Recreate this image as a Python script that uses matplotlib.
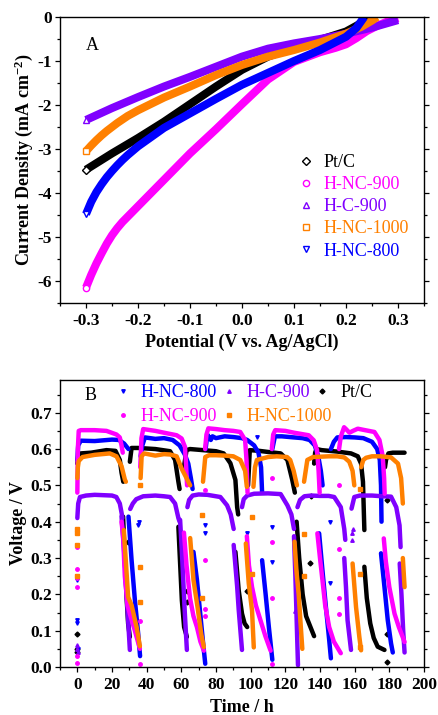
import numpy as np
import matplotlib.pyplot as plt
from matplotlib.lines import Line2D

plt.rcParams['font.family'] = 'Liberation Serif'
plt.rcParams['axes.unicode_minus'] = False
plt.rcParams['mathtext.fontset'] = 'custom'
plt.rcParams['mathtext.rm'] = 'Liberation Serif:bold'
plt.rcParams['mathtext.bf'] = 'Liberation Serif:bold'
plt.rcParams['mathtext.it'] = 'Liberation Serif:bold'
nan = np.nan

# ---------------- panel A : LSV curves ----------------
names = ['Pt/C', 'H-NC-900', 'H-C-900', 'H-NC-1000', 'H-NC-800']
colors = ['black', '#FF00FF', '#8000FF', '#FF8000', '#0000FF']
marks = ['D', 'o', '^', 's', 'v']

ptc_x = [-0.3, -0.25, -0.2, -0.15, -0.1, -0.05, 0, 0.05, 0.1, 0.15, 0.2, 0.22, 0.24, 0.25]
ptc_y = [-3.47, -3.1, -2.75, -2.38, -1.98, -1.58, -1.2, -0.9, -0.69, -0.52, -0.33, -0.2, -0.06, 0.0]
nc900_x = [-0.3, -0.29, -0.28, -0.27, -0.26, -0.25, -0.24, -0.23, -0.22, -0.21, -0.2, -0.15, -0.1,
           -0.05, 0, 0.05, 0.1, 0.15, 0.18, 0.2, 0.22, 0.24, 0.26, 0.28, 0.3]
nc900_y = [-6.15, -5.86, -5.6, -5.37, -5.15, -4.96, -4.8, -4.66, -4.54, -4.42, -4.3, -3.7, -3.1,
           -2.55, -1.98, -1.42, -1.02, -0.8, -0.7, -0.62, -0.48, -0.32, -0.2, -0.1, -0.02]
c900_x = [-0.3, -0.25, -0.2, -0.15, -0.1, -0.05, 0, 0.05, 0.1, 0.15, 0.2, 0.25, 0.3]
c900_y = [-2.34, -2.07, -1.82, -1.58, -1.36, -1.13, -0.9, -0.72, -0.6, -0.5, -0.38, -0.24, -0.07]
nc1000_x = [-0.3, -0.29, -0.28, -0.27, -0.26, -0.25, -0.24, -0.23, -0.22, -0.2, -0.15, -0.1,
            -0.05, 0, 0.05, 0.1, 0.15, 0.2, 0.23, 0.25, 0.26]
nc1000_y = [-3.05, -2.92, -2.8, -2.69, -2.59, -2.5, -2.41, -2.33, -2.25, -2.12, -1.83, -1.58,
            -1.32, -1.09, -0.9, -0.75, -0.58, -0.38, -0.22, -0.08, 0.0]
nc800_x = [-0.3, -0.29, -0.28, -0.27, -0.26, -0.25, -0.24, -0.23, -0.22, -0.2, -0.15, -0.1,
           -0.05, 0, 0.05, 0.1, 0.15, 0.2, 0.22, 0.235]
nc800_y = [-4.48, -4.2, -3.98, -3.8, -3.64, -3.5, -3.37, -3.25, -3.14, -2.94, -2.52, -2.19,
           -1.86, -1.54, -1.27, -1.0, -0.75, -0.45, -0.25, 0.0]

lsv = [(ptc_x, ptc_y), (nc900_x, nc900_y), (c900_x, c900_y), (nc1000_x, nc1000_y), (nc800_x, nc800_y)]

# ---------------- panel B : discharge cycles ----------------
b800_t = [0, 0.5, 2, 10, 20, 24, 27, 29.5, nan,
          29.5, 31.3, 33.2, 35.1, 36.2, nan,
          36.5, 37.5, 39, 45, 50, 55, 59, 62, 64, 65.5, 66.5, nan,
          67, 69, 70.9, 72.8, 73.8, nan,
          74, 75, 77, 78, 80, 85, 90, 95, 98, 102, 104.5, 106, 106.6, nan,
          106.6, 108.6, 110.5, 112.5, nan,
          112.5, 114, 118, 125, 130, 134, 137, 139, 140.5, 141.5, nan,
          139.5, 141.4, 143.4, 145.3, 146.3, nan,
          146.3, 148, 150, 155, 160, 165, 170, 173, 174.5, 175.2, 175.5, nan,
          175.2, 177.2, 179.1, 181, 182]
b800_v = [0.57, 0.61, 0.623, 0.622, 0.626, 0.625, 0.615, 0.6, nan,
          0.414, 0.294, 0.184, 0.092, 0.03, nan,
          0.58, 0.61, 0.632, 0.628, 0.63, 0.625, 0.61, 0.585, 0.56, 0.52, 0.49, nan,
          0.317, 0.24, 0.147, 0.055, 0.009, nan,
          0.6, 0.64, 0.625, 0.635, 0.63, 0.635, 0.633, 0.63, 0.625, 0.61, 0.59, 0.55, 0.48, nan,
          0.294, 0.202, 0.11, 0.02, nan,
          0.6, 0.635, 0.635, 0.632, 0.63, 0.625, 0.61, 0.58, 0.54, 0.5, nan,
          0.368, 0.267, 0.166, 0.075, 0.024, nan,
          0.6, 0.62, 0.632, 0.633, 0.632, 0.63, 0.62, 0.6, 0.57, 0.5, 0.4, nan,
          0.313, 0.22, 0.129, 0.065, 0.04]
b800_xt = [0, 0, 0, 0, 0.3, 35, 35.5, 73.7, 73.7, 98, 103.5, 112.2, 112.2, 146, 146]
b800_xv = [0.13, 0.12, 0.25, 0.24, 0.05, 0.39, 0.4, 0.39, 0.37, 0.37, 0.632, 0.385, 0.29, 0.4, 0.23]

c900_t = [0, 0.5, 1.5, 5, 10, 15, 20, 22.5, 24.5, 25.5, 26, nan,
          25.5, 27.4, 28.4, 29.3, 30.3, nan,
          30.5, 32, 34, 38, 45, 50, 53.5, 56.4, 58.3, 59, nan,
          59.3, 60.5, 62, 63.2, nan,
          63.5, 64.5, 66.5, 70, 75, 80, 82.5, 86.4, 88.5, 90.2, nan,
          90.2, 92.2, 93.1, 95, nan,
          95, 96, 98, 102, 110, 117.3, 121.2, 123.5, 125, nan,
          125, 125.8, 126.6, 127.3, nan,
          127, 128.5, 131, 135, 140, 145, 148.2, 152, 154, 154.6, nan,
          154, 155, 155.9, 157.9, nan,
          158.2, 159.8, 163, 170, 176, 181, 184, 185.9, 186.5, nan,
          186, 187, 188, 188.8]
c900_v = [0.41, 0.45, 0.468, 0.472, 0.474, 0.473, 0.472, 0.468, 0.45, 0.425, 0.41, nan,
          0.414, 0.294, 0.202, 0.13, 0.047, nan,
          0.435, 0.45, 0.462, 0.47, 0.472, 0.47, 0.468, 0.45, 0.41, 0.4, nan,
          0.405, 0.3, 0.15, 0.047, nan,
          0.44, 0.46, 0.472, 0.475, 0.474, 0.47, 0.468, 0.445, 0.42, 0.38, nan,
          0.336, 0.222, 0.158, 0.047, nan,
          0.44, 0.462, 0.472, 0.477, 0.478, 0.476, 0.445, 0.42, 0.38, nan,
          0.36, 0.25, 0.12, 0.005, nan,
          0.44, 0.46, 0.47, 0.472, 0.471, 0.471, 0.468, 0.44, 0.38, 0.35, nan,
          0.3, 0.22, 0.129, 0.047, nan,
          0.436, 0.468, 0.472, 0.472, 0.47, 0.469, 0.44, 0.39, 0.33, nan,
          0.285, 0.2, 0.1, 0.04]
c900_xt = [0, 0, 0.3, 125.5, 158.5, 158.7, 158.9]
c900_xv = [0.05, 0.06, 0.04, 0.155, 0.37, 0.35, 0.38]

pt_t = [0, 0.5, 2, 8, 16.8, 22, 24.5, 25.5, 26.5, nan,
        26.4, 27.4, 28.4, 29.3, 30.3, nan,
        30.3, 31.3, 35, 45, 53.5, 56.4, 58.3, 59, nan,
        58.3, 59.3, 60.3, 61.6, 63.2, nan,
        61.5, 63, 65, 70, 80, 84.4, 88.3, 91.2, 92.2, 92.8, nan,
        91.2, 93.1, 95, 96.5, 98, nan,
        98.5, 99.5, 105, 110, 117.3, 121.2, 124, 125.5, nan,
        126.5, 128, 130, 132, 134.5, 136.6, nan,
        136.6, 137.2, 138, 141, 150, 157.9, 161.8, 163.7, 164.8, 165.6, nan,
        165.6, 167, 169, 171, 173.3, 177.2, nan,
        177.5, 178.1, 179.5, 182, 185, 188.8]
pt_v = [0.56, 0.58, 0.588, 0.59, 0.597, 0.595, 0.57, 0.535, 0.51, nan,
        0.414, 0.294, 0.193, 0.12, 0.083, nan,
        0.565, 0.603, 0.603, 0.6, 0.594, 0.57, 0.51, 0.49, nan,
        0.386, 0.285, 0.184, 0.11, 0.083, nan,
        0.55, 0.597, 0.6, 0.598, 0.594, 0.588, 0.561, 0.515, 0.44, 0.42, nan,
        0.317, 0.211, 0.147, 0.12, 0.11, nan,
        0.5, 0.597, 0.595, 0.592, 0.588, 0.57, 0.515, 0.48, nan,
        0.4, 0.3, 0.2, 0.14, 0.11, 0.085, nan,
        0.56, 0.59, 0.6, 0.597, 0.593, 0.588, 0.58, 0.56, 0.51, 0.377, nan,
        0.276, 0.19, 0.12, 0.08, 0.056, 0.047, nan,
        0.55, 0.57, 0.588, 0.59, 0.59, 0.59]
pt_xt = [0, 0, 0, 29.3, 63, 63, 97.8, 134.4, 135, 178.8, 178.8, 178.8]
pt_xv = [0.04, 0.05, 0.09, 0.344, 0.21, 0.18, 0.21, 0.285, 0.47, 0.46, 0.092, 0.014]

b900_t = [0, 0.3, 0.8, 2, 10, 16.8, 22.6, 24.5, 25.5, 26.2, nan,
          25.5, 26.4, 27.4, 29, 30.3, 33.2, 36.1, nan,
          36.3, 37, 38, 45, 50, 57.3, 60.2, 62.1, 62.8, 63.3, nan,
          61.5, 63, 65, 67, 69, 71, 73, nan,
          73.7, 74.5, 75.6, 80, 85, 90, 94, 96.8, 97.6, 98.2, nan,
          97.8, 99, 100.8, 103, 105.7, 108.5, 111.5, nan,
          112.2, 113, 114.2, 120, 125, 133.5, 136.4, 138.3, 139.2, 139.8, nan,
          138.5, 140, 141.4, 143, 145.3, 148, 152, nan,
          151, 152, 153.9, 155, 157, 159, 161.8, 166, 171.4, 174.3, 176.2, 177, 177.3, nan,
          176.8, 178, 180, 183, 185.5, 188.8]
b900_v = [0.48, 0.6, 0.65, 0.652, 0.652, 0.65, 0.64, 0.632, 0.61, 0.59, nan,
          0.40, 0.36, 0.25, 0.17, 0.146, 0.1, 0.05, nan,
          0.55, 0.63, 0.655, 0.65, 0.645, 0.638, 0.629, 0.606, 0.55, 0.5, nan,
          0.37, 0.28, 0.19, 0.14, 0.11, 0.07, 0.045, nan,
          0.6, 0.64, 0.657, 0.655, 0.652, 0.65, 0.647, 0.625, 0.57, 0.48, nan,
          0.36, 0.28, 0.22, 0.17, 0.128, 0.085, 0.045, nan,
          0.6, 0.64, 0.652, 0.65, 0.645, 0.638, 0.624, 0.597, 0.54, 0.48, nan,
          0.368, 0.3, 0.24, 0.17, 0.11, 0.07, 0.038, nan,
          0.6, 0.634, 0.66, 0.655, 0.645, 0.65, 0.656, 0.652, 0.647, 0.625, 0.58, 0.52, 0.477, nan,
          0.354, 0.29, 0.22, 0.147, 0.11, 0.069]
b900_xt = [0, 0, 0, 0, 0, 0, 36.1, 36.1, 73.7, 73.7, 73.7, 73.7, 112.2, 112.2, 112.2, 112.2,
           150.7, 150.7, 150.7, 150.7]
b900_xv = [0.01, 0.03, 0.22, 0.245, 0.27, 0.33, 0.128, 0.009, 0.294, 0.16, 0.14, 0.487, 0.344,
           0.19, 0.009, 0.52, 0.5, 0.326, 0.19, 0.145]

b1000_t = [0, 0.3, 0.8, 3, 10, 18.7, 22.6, 25.5, 27.4, 28, nan,
           26.8, 28, 29.3, 31.3, 34.2, 36.1, nan,
           36.5, 37.1, 38.5, 45, 50, 53.5, 57.3, 60.3, 63, 65.1, nan,
           65.1, 67, 69.5, 71.5, 73, nan,
           72.5, 73.8, 76, 80, 85, 90, 94, 96.8, 97.8, nan,
           97.2, 98.9, 100.8, 101.8, nan,
           101.6, 102.5, 103.6, 110, 115, 121, 122.8, 124.8, 126.7, nan,
           125.3, 126.5, 127.7, 128.8, 129.8, nan,
           130.8, 132.7, 136, 145, 150, 154, 156.9, 158.8, 159.8, nan,
           158.8, 160.8, 162.7, 163.7, nan,
           163.7, 165, 166.6, 170, 175, 181, 185, 186.8, 187.8, nan,
           187.8, 188.3, 188.8]
b1000_v = [0.52, 0.55, 0.567, 0.578, 0.584, 0.588, 0.58, 0.553, 0.516, 0.51, nan,
           0.377, 0.29, 0.193, 0.17, 0.11, 0.057, nan,
           0.52, 0.58, 0.588, 0.582, 0.586, 0.585, 0.58, 0.545, 0.52, 0.5, nan,
           0.355, 0.24, 0.16, 0.09, 0.055, nan,
           0.51, 0.578, 0.583, 0.583, 0.582, 0.58, 0.57, 0.54, 0.496, nan,
           0.34, 0.23, 0.155, 0.054, nan,
           0.496, 0.55, 0.57, 0.578, 0.58, 0.578, 0.57, 0.54, 0.5, nan,
           0.345, 0.26, 0.2, 0.12, 0.05, nan,
           0.51, 0.57, 0.578, 0.58, 0.58, 0.577, 0.565, 0.54, 0.5, nan,
           0.285, 0.165, 0.083, 0.046, nan,
           0.55, 0.57, 0.576, 0.58, 0.58, 0.577, 0.56, 0.52, 0.45, nan,
           0.3, 0.26, 0.22]
b1000_xt = [0, 0, 0, 0, 36, 36, 36, 71.8, 71.8, 100.7, 100.7, 130.6, 130.6, 163.3, 163.3, 163.3]
b1000_xv = [0.38, 0.37, 0.335, 0.25, 0.275, 0.18, 0.5, 0.418, 0.19, 0.413, 0.257, 0.367, 0.25,
            0.257, 0.49, 0.055]

fig = plt.figure(figsize=(4.38, 7.15), dpi=100)
axA = fig.add_axes([0.137, 0.5762, 0.831, 0.40])
axB = fig.add_axes([0.137, 0.0671, 0.831, 0.4014])

for ax in (axA, axB):
    for s in ax.spines.values():
        s.set_linewidth(1.0)
    ax.tick_params(which='both', direction='out', right=True, top=False, width=0.9)
    ax.tick_params(which='major', length=3.5)
    ax.tick_params(which='minor', length=2)
    ax.tick_params(axis='y', which='major', pad=2.5)

# panel A
for (x, y), c, m in zip(lsv, colors, marks):
    axA.plot(x, y, color=c, lw=5.8, solid_capstyle='butt', solid_joinstyle='round', zorder=2)
    axA.plot(x[0], y[0], marker=m, ms=4.5, mfc='white', mec=c, mew=1, ls='none', zorder=3)

axA.set_xlim(-0.35, 0.35)
axA.set_ylim(-6.5, 0)
axA.set_xticks([-0.3, -0.2, -0.1, 0.0, 0.1, 0.2, 0.3])
axA.set_xticks(np.arange(-0.35, 0.351, 0.05), minor=True)
axA.set_yticks([0, -1, -2, -3, -4, -5, -6])
axA.set_yticks(np.arange(-6.5, 0.01, 0.5), minor=True)
axA.set_xticklabels(['-0.3', '-0.2', '-0.1', '0.0', '0.1', '0.2', '0.3'])
axA.set_yticklabels(['0', '-1', '-2', '-3', '-4', '-5', '-6'])
axA.set_xlabel('Potential (V vs. Ag/AgCl)', fontsize=13, fontweight='bold')
axA.set_ylabel('Current Density (mA cm$^{-2}$)', fontsize=13, fontweight='bold')
axA.xaxis.set_label_coords(0.5, -0.108)
axA.yaxis.set_label_coords(-0.068, 0.5)
axA.text(0.09, 0.9, 'A', transform=axA.transAxes, fontsize=13, ha='center', va='center')

hA = [Line2D([], [], marker=m, ms=4.5, mfc='white', mec=c, mew=1, ls='none')
      for c, m in zip(colors, marks)]
legA = axA.legend(hA, names, loc='upper left', bbox_to_anchor=(0.65, 0.52), frameon=False,
                  fontsize=13, handlelength=1, handletextpad=0.5, borderpad=0, borderaxespad=0,
                  labelspacing=0.28)
for t, c in zip(legA.get_texts(), colors):
    t.set_color(c)

# panel B
seriesB = [('Pt/C', pt_t, pt_v, pt_xt, pt_xv, 'black', 'D'),
           ('H-NC-800', b800_t, b800_v, b800_xt, b800_xv, '#0000FF', 'v'),
           ('H-C-900', c900_t, c900_v, c900_xt, c900_xv, '#8000FF', '^'),
           ('H-NC-900', b900_t, b900_v, b900_xt, b900_xv, '#FF00FF', 'o'),
           ('H-NC-1000', b1000_t, b1000_v, b1000_xt, b1000_xv, '#FF8000', 's')]
for name, t, v, xt, xv, c, m in seriesB:
    axB.plot(t, v, color=c, lw=3.2, solid_capstyle='round', solid_joinstyle='round')
    axB.plot(xt, xv, marker=m, ms=2.5, color=c, ls='none')

axB.set_xlim(-10, 200)
axB.set_ylim(0, 0.79)
axB.set_xticks(np.arange(0, 201, 20))
axB.set_xticks(np.arange(-10, 201, 10), minor=True)
axB.set_yticks(np.arange(0, 0.71, 0.1))
axB.set_yticks(np.arange(0, 0.79, 0.05), minor=True)
axB.set_yticklabels(['%.1f' % v for v in np.arange(0, 0.71, 0.1)])
axB.set_xlabel('Time / h', fontsize=13, fontweight='bold')
axB.set_ylabel('Voltage / V', fontsize=13, fontweight='bold')
axB.xaxis.set_label_coords(0.5, -0.111)
axB.yaxis.set_label_coords(-0.09, 0.5)
axB.text(0.083, 0.945, 'B', transform=axB.transAxes, fontsize=13, ha='center', va='center')

for ax in (axA, axB):
    for lab in ax.get_xticklabels() + ax.get_yticklabels():
        lab.set_fontweight('bold')
        lab.set_fontsize(12.5)

col = {s[0]: s[5] for s in seriesB}
mk = {s[0]: s[6] for s in seriesB}
row1 = ['H-NC-800', 'H-C-900', 'Pt/C']
row2 = ['H-NC-900', 'H-NC-1000']
h1 = [Line2D([], [], marker=mk[n], ms=2.5, color=col[n], ls='none') for n in row1]
h2 = [Line2D([], [], marker=mk[n], ms=2.5, color=col[n], ls='none') for n in row2]
leg1 = axB.legend(h1, row1, ncol=3, loc='upper left', bbox_to_anchor=(0.1475, 0.985), frameon=False,
                  fontsize=13, handlelength=1, handletextpad=0.5, borderpad=0, borderaxespad=0,
                  columnspacing=0.15)
leg2 = axB.legend(h2, row2, ncol=2, loc='upper left', bbox_to_anchor=(0.1475, 0.903), frameon=False,
                  fontsize=13, handlelength=1, handletextpad=0.5, borderpad=0, borderaxespad=0,
                  columnspacing=0.15)
axB.add_artist(leg1)
for lg, rows in ((leg1, row1), (leg2, row2)):
    for t, n in zip(lg.get_texts(), rows):
        t.set_color(col[n])

fig.savefig('out.png', dpi=100)
